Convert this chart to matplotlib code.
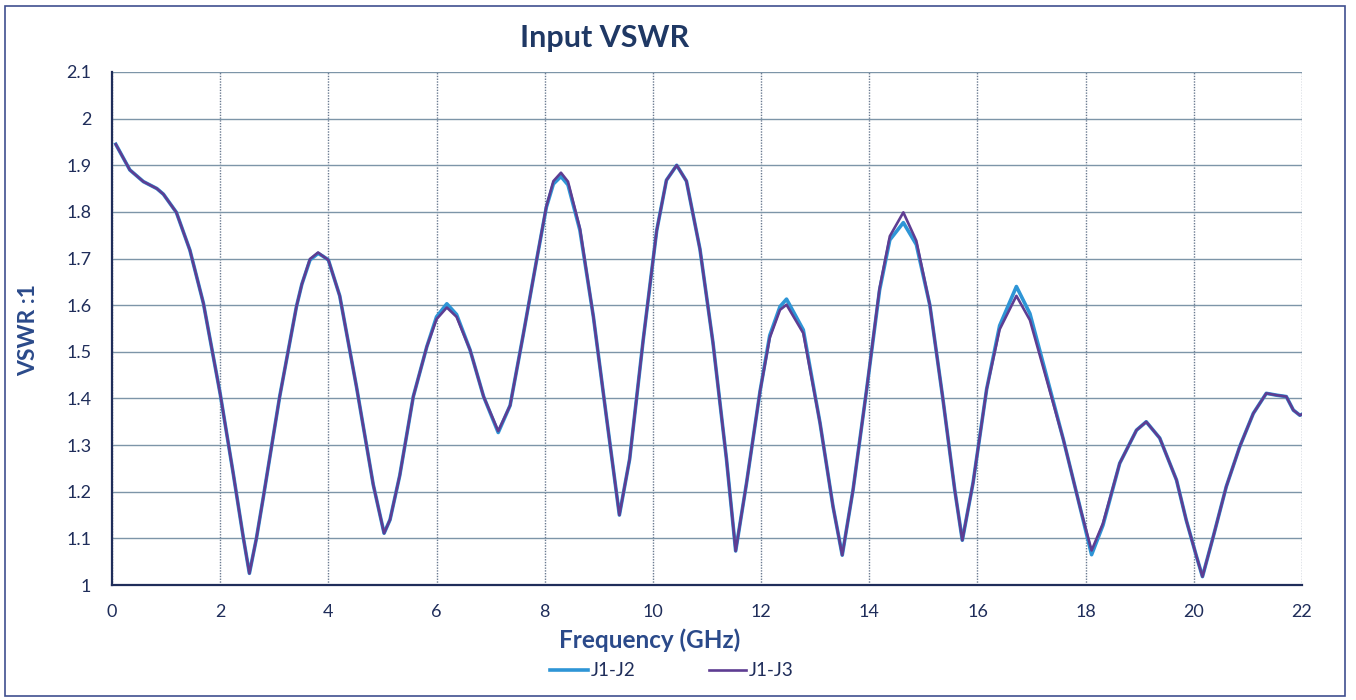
import matplotlib
matplotlib.use('Agg')
from matplotlib import pyplot as plt
from matplotlib.patches import Rectangle
from matplotlib.ticker import FormatStrFormatter
import numpy as np

# values
freq_ghz = [0.07, 0.33, 0.58, 0.83, 0.95, 1.19, 1.44, 1.69, 2.00, 2.24,
            2.43, 2.54, 2.67, 2.80, 3.10, 3.41, 3.51, 3.66, 3.81, 3.90,
            4.00, 4.21, 4.52, 4.83, 5.03, 5.14, 5.32, 5.57, 5.82, 6.00,
            6.19, 6.37, 6.62, 6.87, 7.14, 7.36, 7.60, 7.85, 8.03, 8.16,
            8.30, 8.43, 8.65, 8.90, 9.14, 9.38, 9.57, 9.82, 10.07, 10.25,
            10.44, 10.62, 10.87, 11.11, 11.36, 11.53, 11.73, 11.98, 12.16, 12.35,
            12.47, 12.78, 13.09, 13.33, 13.50, 13.70, 13.95, 14.19, 14.38, 14.63,
            14.87, 15.12, 15.36, 15.58, 15.72, 15.92, 16.17, 16.41, 16.72, 16.97,
            17.28, 17.59, 17.90, 18.11, 18.32, 18.63, 18.94, 19.12, 19.37, 19.68,
            19.86, 20.05, 20.16, 20.36, 20.60, 20.85, 21.10, 21.34, 21.53, 21.71,
            21.84, 21.96, 22.00]

vswr_j1_j2 = [1.945, 1.89, 1.865, 1.85, 1.838, 1.799, 1.718, 1.604, 1.41, 1.24,
              1.10, 1.025, 1.10, 1.19, 1.404, 1.597, 1.645, 1.697, 1.711, 1.705,
              1.697, 1.62, 1.425, 1.215, 1.111, 1.14, 1.235, 1.404, 1.511, 1.575,
              1.603, 1.58, 1.504, 1.404, 1.327, 1.385, 1.535, 1.697, 1.81, 1.86,
              1.876, 1.858, 1.761, 1.575, 1.361, 1.15, 1.27, 1.525, 1.76, 1.868,
              1.90, 1.866, 1.72, 1.52, 1.27, 1.073, 1.218, 1.415, 1.535, 1.597,
              1.613, 1.547, 1.347, 1.168, 1.064, 1.204, 1.418, 1.632, 1.74, 1.777,
              1.73, 1.60, 1.40, 1.204, 1.096, 1.22, 1.42, 1.556, 1.64, 1.582,
              1.447, 1.311, 1.165, 1.065, 1.128, 1.261, 1.332, 1.35, 1.315, 1.225,
              1.139, 1.061, 1.018, 1.104, 1.211, 1.297, 1.368, 1.411, 1.407, 1.404,
              1.375, 1.364, 1.366]

vswr_j1_j3 = [1.945, 1.89, 1.865, 1.85, 1.838, 1.799, 1.718, 1.604, 1.41, 1.24,
              1.10, 1.025, 1.10, 1.19, 1.404, 1.597, 1.645, 1.699, 1.713, 1.705,
              1.697, 1.62, 1.425, 1.215, 1.111, 1.14, 1.235, 1.404, 1.511, 1.57,
              1.595, 1.575, 1.504, 1.404, 1.33, 1.385, 1.535, 1.697, 1.812, 1.866,
              1.884, 1.865, 1.765, 1.575, 1.361, 1.15, 1.27, 1.525, 1.76, 1.868,
              1.90, 1.866, 1.72, 1.52, 1.27, 1.073, 1.218, 1.415, 1.53, 1.59,
              1.601, 1.54, 1.347, 1.168, 1.064, 1.204, 1.418, 1.636, 1.748, 1.799,
              1.738, 1.60, 1.40, 1.204, 1.096, 1.22, 1.42, 1.548, 1.62, 1.568,
              1.44, 1.311, 1.165, 1.074, 1.132, 1.261, 1.332, 1.35, 1.315, 1.225,
              1.139, 1.061, 1.018, 1.104, 1.211, 1.297, 1.368, 1.411, 1.407, 1.404,
              1.375, 1.364, 1.366]

x_ticks = [0, 2, 4, 6, 8, 10, 12, 14, 16, 18, 20, 22]
y_ticks = [1, 1.1, 1.2, 1.3, 1.4, 1.5, 1.6, 1.7, 1.8, 1.9, 2, 2.1]

plt.rcParams['font.family'] = ['Lato', 'DejaVu Sans']

navy = '#1F2D5A'
label_blue = '#2B4A8A'

fig = plt.figure(figsize=(13.56, 7.0), dpi=100)
ax = fig.add_axes([112 / 1356, 1 - 585 / 700, 1190 / 1356, 513 / 700])

ax.plot(freq_ghz, vswr_j1_j2, color='#2E95D6', lw=2.6, label='J1-J2', zorder=3)
ax.plot(freq_ghz, vswr_j1_j3, color='#5E3D92', lw=1.9, label='J1-J3', zorder=4)

ax.set_xlim(0, 22)
ax.set_ylim(1, 2.1)
ax.set_xticks(x_ticks)
ax.set_yticks(y_ticks)
ax.yaxis.set_major_formatter(FormatStrFormatter('%g'))
ax.tick_params(length=0, labelsize=13, labelcolor=navy)
ax.tick_params(axis='x', pad=14)
ax.tick_params(axis='y', pad=15)

ax.grid(axis='y', color='#7D95A8', lw=1.0, ls='-')
ax.grid(axis='x', color='#6A7A90', lw=1.0, ls=(0, (1, 1)))
ax.set_axisbelow(True)

for s in ['top', 'right']:
    ax.spines[s].set_visible(False)
for s in ['left', 'bottom']:
    ax.spines[s].set_color(navy)
    ax.spines[s].set_linewidth(1.6)

ax.set_xlabel('Frequency (GHz)', fontsize=17.5, fontweight='bold', color=label_blue)
ax.xaxis.set_label_coords(0.452, -0.085)
ax.set_ylabel('VSWR :1', fontsize=16.5, fontweight='bold', color=label_blue)
ax.yaxis.set_label_coords(-0.061, 0.497)

fig.text(605 / 1356, 1 - 38 / 700, 'Input VSWR', fontsize=22, fontweight='bold',
         color='#1F3864', ha='center', va='center')

leg = fig.legend(loc='center', bbox_to_anchor=(672 / 1356, 1 - 671 / 700), ncol=2,
                 frameon=False, fontsize=13.5, handlelength=2.0, handletextpad=0.15,
                 columnspacing=3.9)
for t in leg.get_texts():
    t.set_color(navy)

fig.patches.append(Rectangle((5 / 1356, 4 / 700), 1340 / 1356, 690 / 700,
                             transform=fig.transFigure, fill=False,
                             edgecolor='#3F4F8F', lw=1.2))

plt.savefig('out.png', dpi=100)
